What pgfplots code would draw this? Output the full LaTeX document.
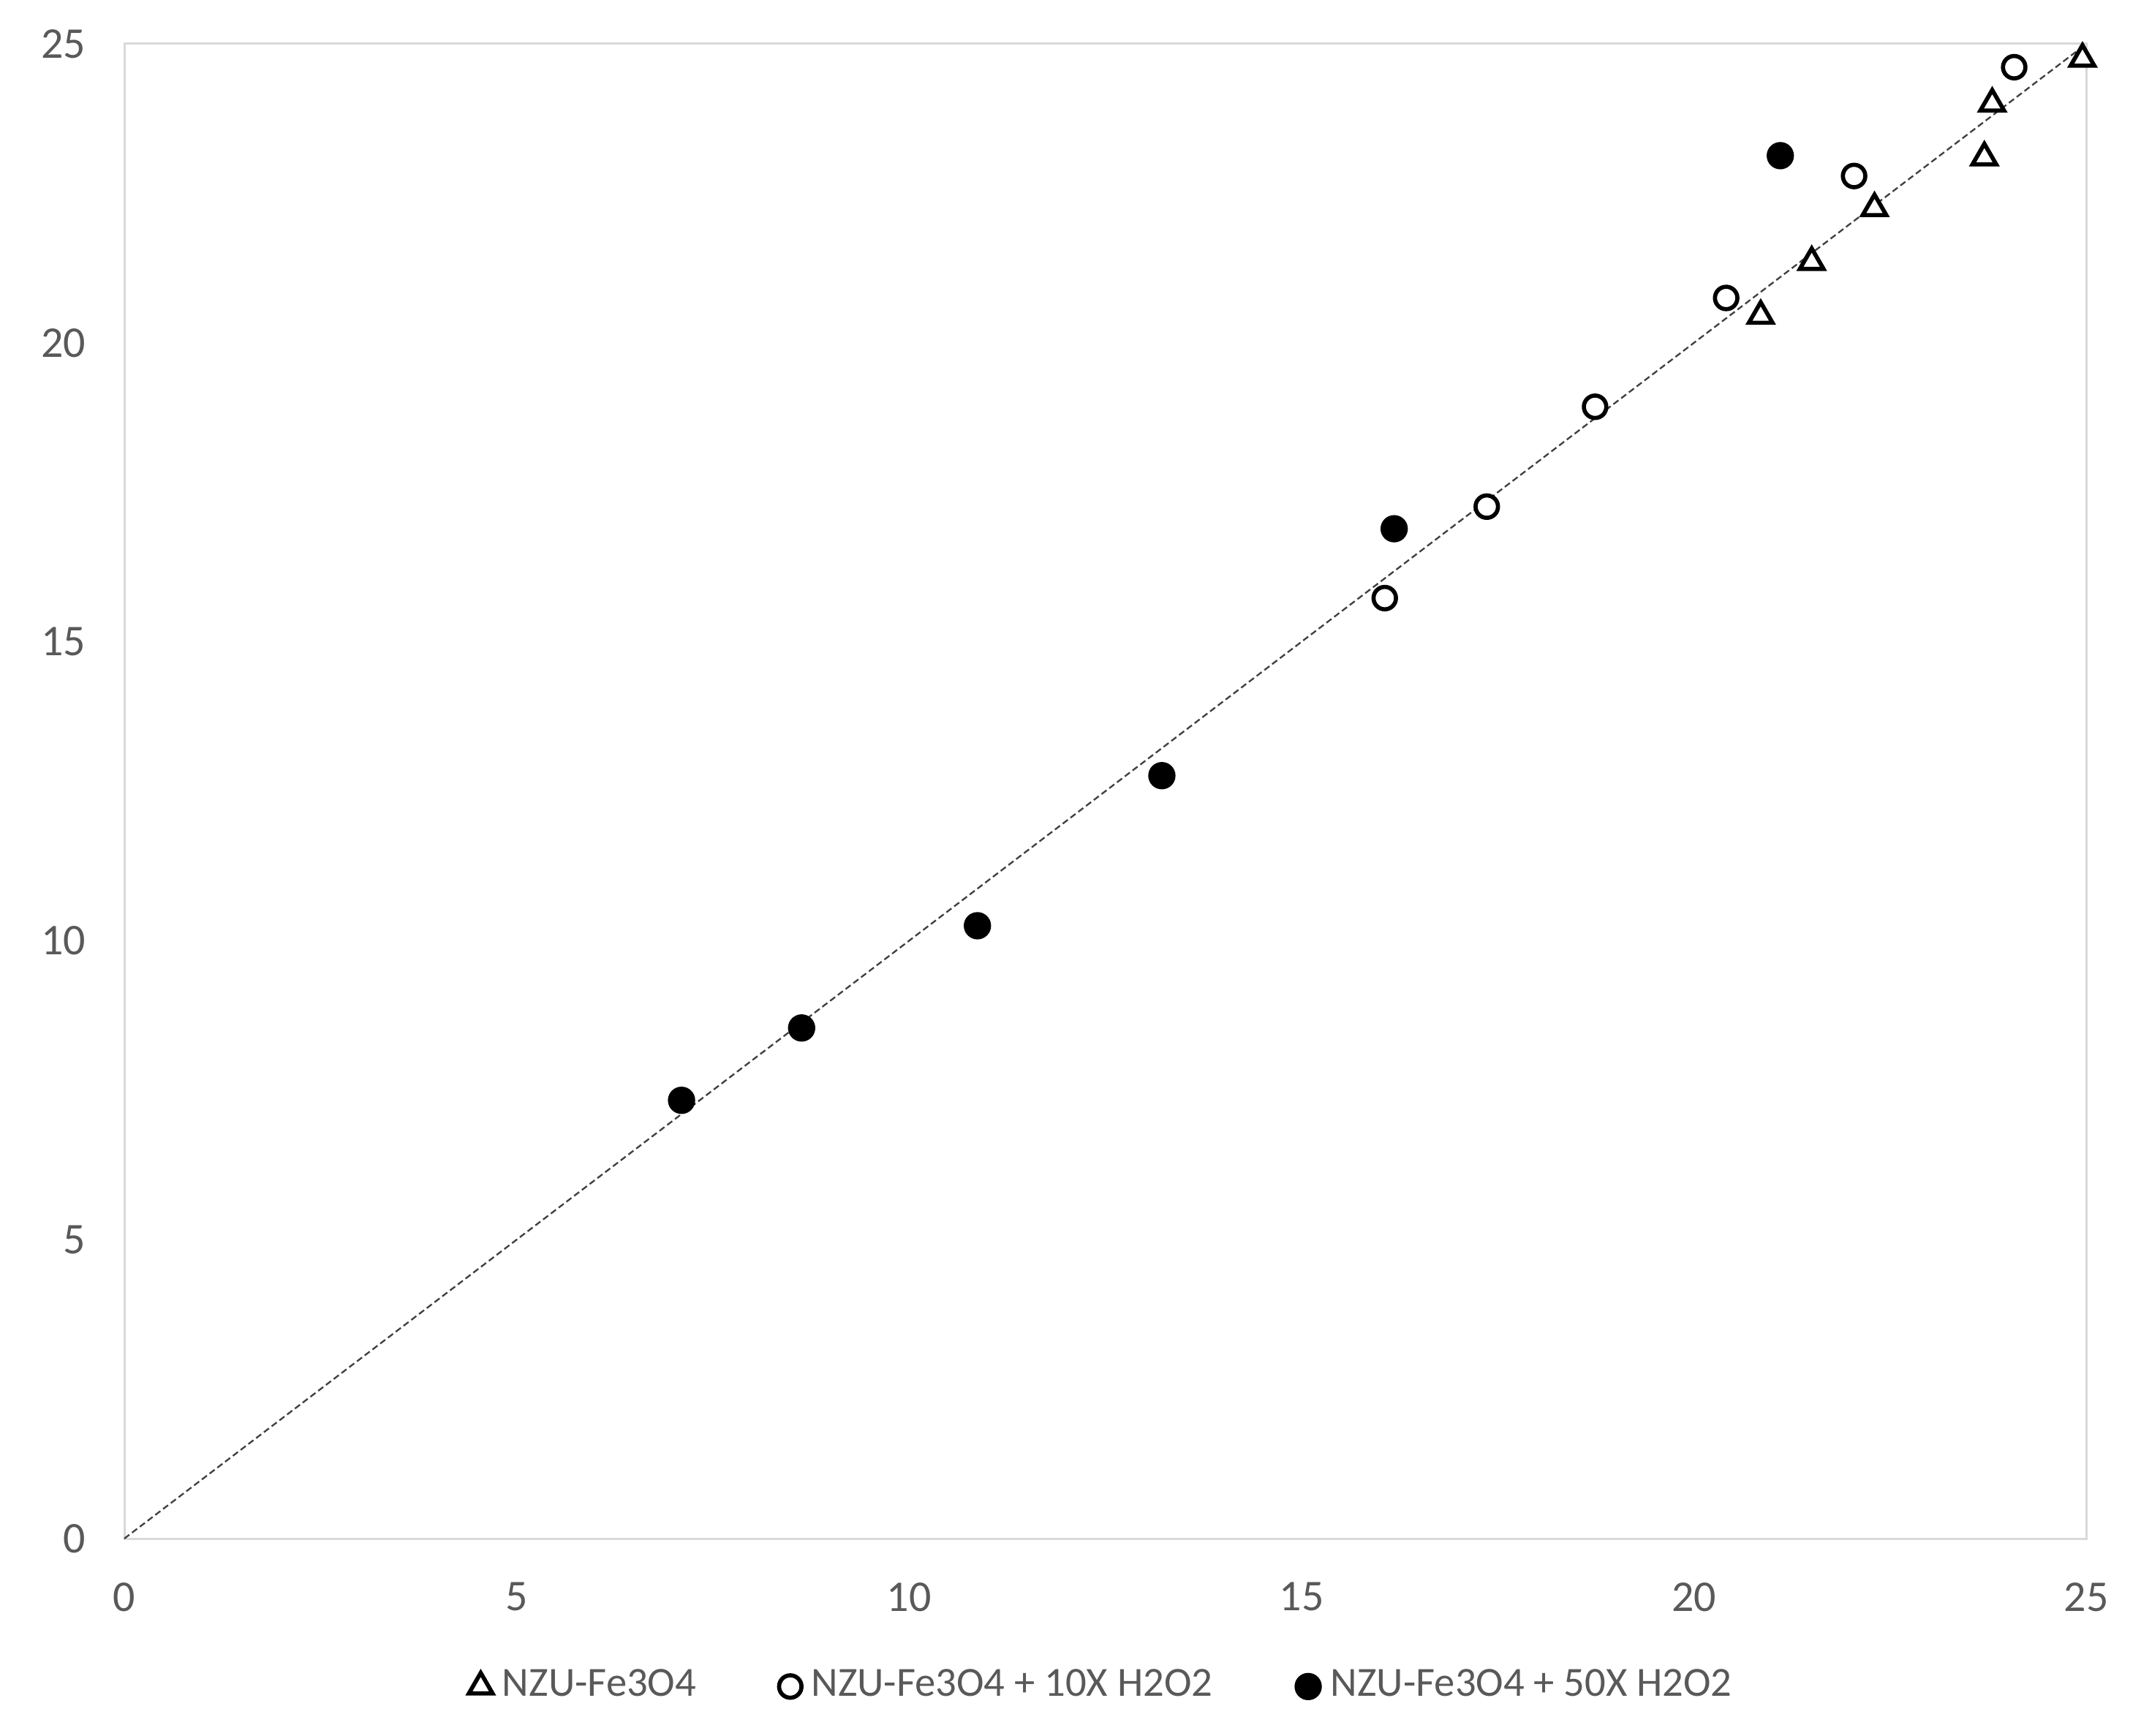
\documentclass[border=0pt]{standalone}
\usepackage{pgfplots}
\pgfplotsset{compat=1.18}
\usepackage{fontspec}
\setmainfont{Carlito}
\definecolor{axgray}{HTML}{D9D9D9}
\definecolor{txtgray}{HTML}{595959}
\definecolor{linegray}{HTML}{404040}
\begin{document}
\begin{tikzpicture}
\path[use as bounding box] (-25.5pt,-40.5pt) rectangle (413.7pt,315.6pt);
\begin{axis}[
 at={(0,0)}, anchor=south west,
 scale only axis, width=402.5pt, height=306.6pt,
 xmin=0,xmax=25,ymin=0,ymax=25,
 xtick={0,5,...,25}, ytick={0,5,...,25},
 major tick length=0pt,
 axis line style={axgray, line width=0.45pt},
 tick label style={font=\fontsize{9}{11}\selectfont, text=txtgray},
 /pgf/number format/assume math mode=true,
 xticklabel style={yshift=-5.5pt},
 yticklabel style={xshift=-4.4pt},
 legend style={at={(0.5,-0.099)}, anchor=center, draw=none, legend columns=3,
   font=\fontsize{8.5}{10}\selectfont, text=txtgray,
   /tikz/every even column/.append style={column sep=15pt}},
 legend image code/.code={\draw[#1] plot coordinates {(0.08cm,0cm)};},
 clip=false,
]
\addplot[color=linegray, line width=0.35pt, dash pattern=on 1.3pt off 0.7pt, forget plot] coordinates {(0,0) (25,25)};
\addplot[only marks, mark=triangle*, mark size=2.8pt, mark options={draw=black, fill=white, line width=0.85pt}] coordinates {
(24.95,24.75) (23.8,24.0) (23.7,23.1) (22.3,22.25) (21.5,21.35) (20.85,20.45)
};
\addlegendentry{NZU-Fe3O4}
\addplot[only marks, mark=*, mark size=2.3pt, mark options={draw=black, fill=white, line width=0.85pt}] coordinates {
(24.08,24.61) (22.04,22.79) (20.41,20.75) (18.74,18.93) (17.36,17.26) (16.06,15.73)
};
\addlegendentry{NZU-Fe3O4 + 10X H2O2}
\addplot[only marks, mark=*, mark size=2.6pt, mark options={draw=black, fill=black}] coordinates {
(21.10,23.13) (16.18,16.89) (13.22,12.76) (10.87,10.25) (8.63,8.54) (7.10,7.33)
};
\addlegendentry{NZU-Fe3O4 + 50X H2O2}
\end{axis}
\end{tikzpicture}
\end{document}
